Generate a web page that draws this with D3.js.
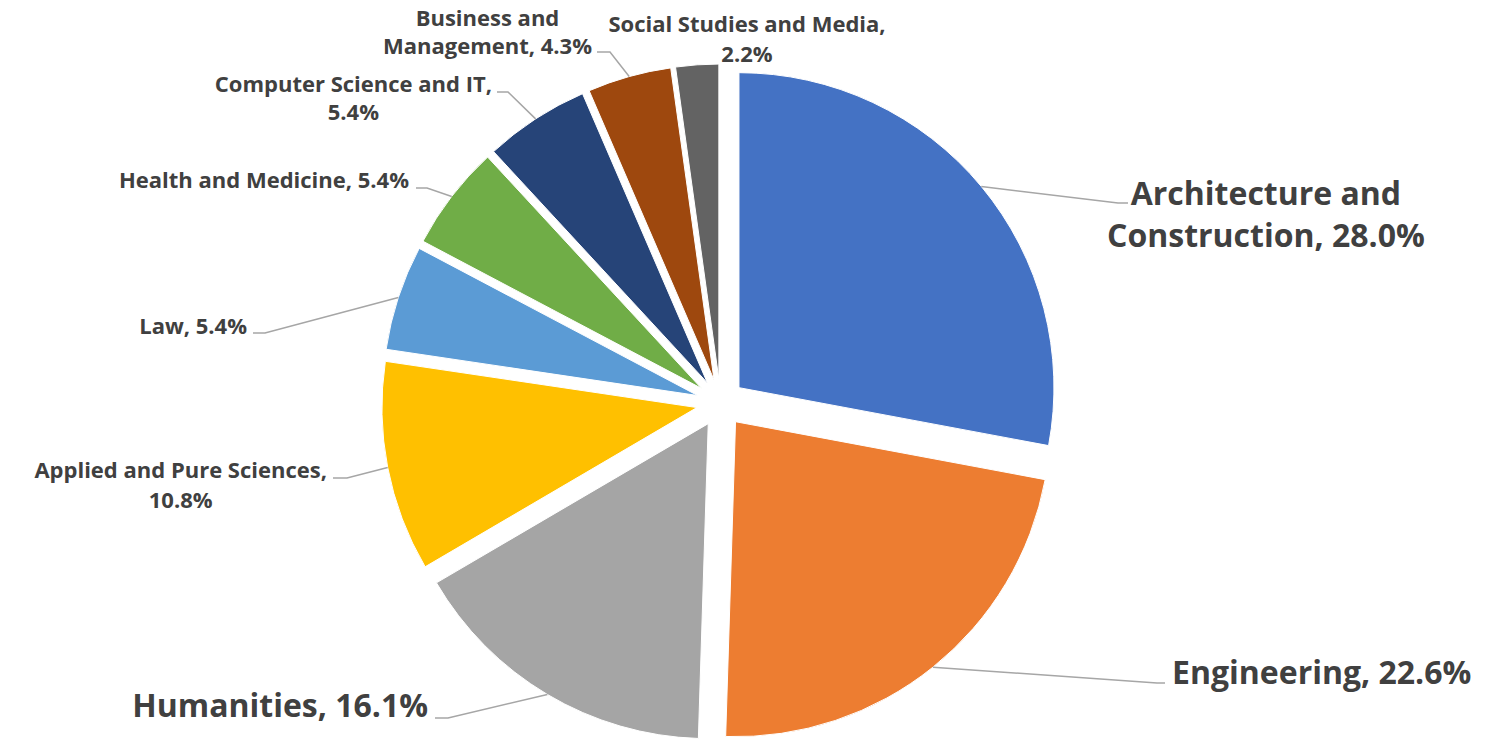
<!DOCTYPE html>
<html>
<head>
<meta charset="utf-8">
<script src="https://cdn.jsdelivr.net/npm/d3@7"></script>
<style>
  html, body { margin: 0; padding: 0; background: #ffffff; }
  svg { display: block; }
  text { font-family: "Open Sans", "Lato", sans-serif; font-weight: 700; fill: #404040; }
</style>
</head>
<body>
<svg id="chart" width="1491" height="739"></svg>
<script>
// Share of graduates by field of study (%)
const categories = [
  "Architecture and Construction",
  "Engineering",
  "Humanities",
  "Applied and Pure Sciences",
  "Law",
  "Health and Medicine",
  "Computer Science and IT",
  "Business and Management",
  "Social Studies and Media"
];
const shares = [28.0, 22.6, 16.1, 10.8, 5.4, 5.4, 5.4, 4.3, 2.2];
const sliceColors = ["#4472C4", "#ED7D31", "#A5A5A5", "#FFC000", "#5B9BD5", "#70AD47", "#264478", "#9E480E", "#636363"];

// Label placement: where each label sits, how it wraps, and its leader line bend
const labelLayout = [
  { big: true,  wrap: 2, align: "left",   x: 1107, y: [205, 247], leader: [[1118, 203], [1128, 203]] },
  { big: true,  wrap: 0, align: "left",   x: 1172, y: [684],      leader: [[1157, 683], [1165, 683]] },
  { big: true,  wrap: 0, align: "right",  x: 428,  y: [717],      leader: [[448, 718], [435, 718]] },
  { big: false, wrap: 4, align: "right",  x: 327,  y: [478, 508], leader: [[347, 478], [333, 478]] },
  { big: false, wrap: 0, align: "right",  x: 247,  y: [334],      leader: [[265, 333], [253, 333]] },
  { big: false, wrap: 0, align: "right",  x: 409,  y: [188],      leader: [[427, 188], [416, 188]] },
  { big: false, wrap: 4, align: "right",  x: 492,  y: [92, 120],  leader: [[508, 92], [497, 92]] },
  { big: false, wrap: 2, align: "right",  x: 592,  y: [26, 54],   leader: [[610, 52], [597, 52]] },
  { big: false, wrap: 4, align: "center", x: 747,  y: [32, 62],   leader: null }
];

const cx = 720.5, cy = 403;   // pie centre
const radius = 315;
const explode = 24;           // outward offset of every slice

const svg = d3.select("#chart");
const g = svg.append("g").attr("transform", `translate(${cx},${cy})`);

const pie = d3.pie().sort(null).value(d => d);
const arcs = pie(shares);
const arc = d3.arc().innerRadius(0).outerRadius(radius);

const mid = a => (a.startAngle + a.endAngle) / 2;
const dir = t => [Math.sin(t), -Math.cos(t)];

// Slices
g.selectAll("path.slice")
  .data(arcs)
  .join("path")
  .attr("class", "slice")
  .attr("d", arc)
  .attr("fill", (d, i) => sliceColors[i])
  .attr("stroke", "#ffffff")
  .attr("stroke-width", 1)
  .attr("transform", d => {
    const [ux, uy] = dir(mid(d));
    return `translate(${ux * explode},${uy * explode})`;
  });

// Leader lines: from the slice's outer edge at its mid-angle to the label
const line = d3.line();
arcs.forEach((a, i) => {
  const L = labelLayout[i];
  if (!L.leader) return;
  const [ux, uy] = dir(mid(a));
  const start = [cx + ux * (explode + radius), cy + uy * (explode + radius)];
  svg.append("path")
    .attr("d", line([start, ...L.leader]))
    .attr("fill", "none")
    .attr("stroke", "#A6A6A6")
    .attr("stroke-width", 1.5);
});

// Labels
arcs.forEach((a, i) => {
  const L = labelLayout[i];
  const full = `${categories[i]}, ${shares[i].toFixed(1)}%`;
  const words = full.split(" ");
  const lines = L.wrap ? [words.slice(0, L.wrap).join(" "), words.slice(L.wrap).join(" ")] : [full];

  const t = svg.append("g");
  const texts = lines.map((s, k) =>
    t.append("text")
      .attr("font-size", L.big ? 32 : 22)
      .attr("y", L.y[k])
      .attr("text-anchor", "middle")
      .text(s)
  );
  const widths = texts.map(n => n.node().getComputedTextLength());
  const maxW = d3.max(widths);
  let centre;
  if (L.align === "left") centre = L.x + maxW / 2;
  else if (L.align === "right") centre = L.x - maxW / 2;
  else centre = L.x;
  texts.forEach(n => n.attr("x", centre));
});
</script>
</body>
</html>
